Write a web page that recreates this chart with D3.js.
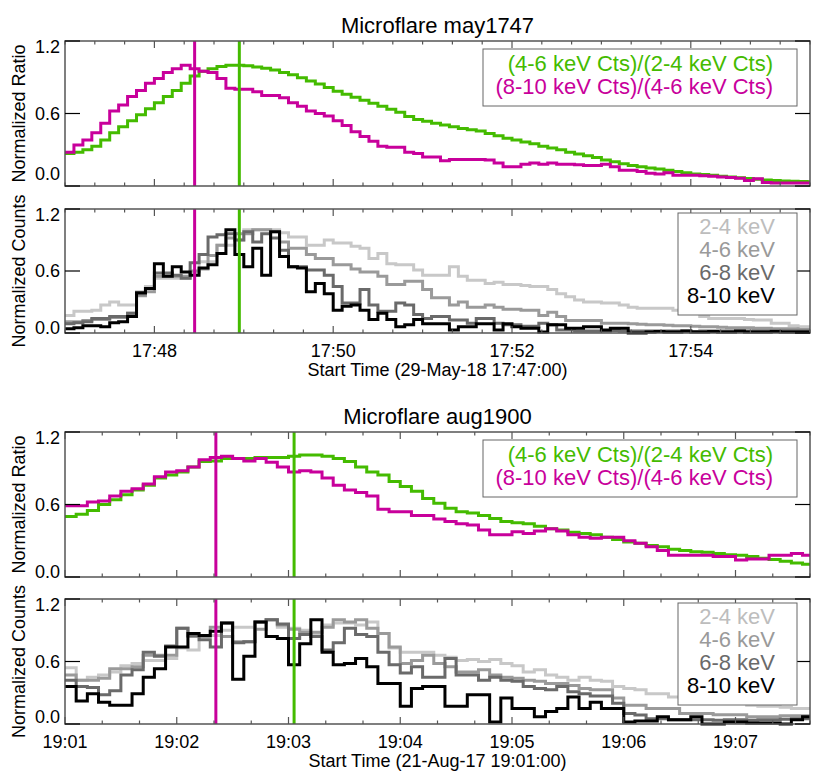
<!DOCTYPE html>
<html><head><meta charset="utf-8">
<script src="https://cdn.jsdelivr.net/npm/d3@7"></script>
<style>
body{margin:0;background:#fff}
svg{display:block}
text{font-family:"Liberation Sans",Arial,Helvetica,sans-serif}
</style></head>
<body><svg id="c" width="830" height="783"></svg>
<script>
// ---------------- DATA ----------------
const binSec = 6;                  // seconds per time bin
const mayTitle = "Microflare may1747";
const augTitle = "Microflare aug1900";
const mayXTitle = "Start Time (29-May-18 17:47:00)";
const augXTitle = "Start Time (21-Aug-17 19:01:00)";
const mayTickSec = [60,180,300,420];
const mayTickLabels = ["17:48","17:50","17:52","17:54"];
const augTickSec = [0,60,120,180,240,300,360];
const augTickLabels = ["19:01","19:02","19:03","19:04","19:05","19:06","19:07"];
const yTicks = [0,0.6,1.2];
const yTickLabels = ["0.0","0.6","1.2"];
const ratioLegend = ["(4-6 keV Cts)/(2-4 keV Cts)","(8-10 keV Cts)/(4-6 keV Cts)"];
const bandLegend = ["2-4 keV","4-6 keV","6-8 keV","8-10 keV"];
const mayMarkSec = [87,117];   // magenta, green vertical lines
const augMarkSec = [81,123];

const mayRatioGreen = [0.27,0.28,0.30,0.33,0.38,0.44,0.49,0.54,0.59,0.64,0.69,0.74,0.79,0.85,0.91,0.95,0.97,0.99,1.00,1.00,0.995,0.985,0.975,0.96,0.94,0.92,0.895,0.87,0.845,0.815,0.785,0.76,0.735,0.71,0.685,0.66,0.635,0.61,0.575,0.55,0.535,0.52,0.505,0.49,0.475,0.465,0.455,0.435,0.415,0.395,0.38,0.365,0.35,0.33,0.315,0.30,0.28,0.265,0.25,0.235,0.215,0.20,0.185,0.17,0.16,0.15,0.14,0.13,0.12,0.11,0.10,0.095,0.088,0.08,0.075,0.068,0.062,0.056,0.05,0.045,0.042,0.04,0.037,0.035];
const mayRatioMagenta = [0.28,0.34,0.38,0.44,0.52,0.62,0.67,0.74,0.79,0.85,0.89,0.94,0.97,1.00,0.97,0.95,0.94,0.89,0.81,0.80,0.80,0.78,0.75,0.75,0.73,0.69,0.66,0.62,0.60,0.58,0.54,0.50,0.45,0.41,0.37,0.33,0.32,0.32,0.28,0.27,0.24,0.24,0.21,0.22,0.22,0.22,0.22,0.215,0.19,0.16,0.16,0.18,0.19,0.18,0.19,0.18,0.18,0.175,0.17,0.17,0.18,0.16,0.13,0.13,0.12,0.105,0.10,0.11,0.09,0.09,0.09,0.085,0.08,0.075,0.07,0.065,0.045,0.06,0.03,0.025,0.025,0.025,0.025,0.025];

const mayCts24 = [0.17,0.21,0.21,0.22,0.27,0.30,0.27,0.27,0.40,0.45,0.53,0.53,0.53,0.53,0.59,0.69,0.69,0.85,0.85,0.90,1.00,1.00,1.00,1.00,0.97,0.93,0.93,0.85,0.85,0.90,0.87,0.87,0.84,0.82,0.72,0.77,0.67,0.66,0.66,0.61,0.56,0.56,0.56,0.64,0.55,0.51,0.51,0.48,0.49,0.47,0.47,0.46,0.45,0.45,0.42,0.38,0.35,0.32,0.30,0.30,0.29,0.29,0.27,0.25,0.24,0.24,0.24,0.24,0.22,0.19,0.19,0.16,0.14,0.14,0.14,0.14,0.13,0.125,0.125,0.094,0.094,0.07,0.06,0.06];
const mayCts46 = [0.11,0.11,0.12,0.13,0.13,0.15,0.15,0.19,0.36,0.40,0.55,0.55,0.55,0.55,0.60,0.62,0.75,0.85,0.92,0.96,0.96,1.00,1.00,0.98,0.88,0.82,0.82,0.76,0.72,0.72,0.66,0.66,0.62,0.59,0.59,0.55,0.47,0.47,0.50,0.50,0.42,0.34,0.34,0.27,0.30,0.25,0.25,0.27,0.25,0.23,0.23,0.22,0.22,0.17,0.20,0.16,0.12,0.12,0.12,0.12,0.095,0.095,0.095,0.09,0.085,0.08,0.08,0.075,0.07,0.07,0.065,0.06,0.06,0.055,0.05,0.05,0.05,0.045,0.045,0.04,0.04,0.04,0.035,0.035];
const mayCts68 = [0.09,0.10,0.11,0.14,0.14,0.16,0.16,0.19,0.38,0.43,0.58,0.58,0.56,0.53,0.68,0.76,0.93,0.95,0.96,0.90,0.98,0.88,0.96,0.92,0.80,0.64,0.64,0.61,0.61,0.56,0.45,0.29,0.29,0.42,0.27,0.21,0.21,0.29,0.27,0.18,0.14,0.16,0.16,0.125,0.125,0.095,0.14,0.14,0.095,0.08,0.08,0.065,0.065,0.095,0.08,0.03,0.03,0.02,0.02,0.02,0.02,0.025,0.02,0.02,0.02,0.02,0.02,0.02,0.02,0.02,0.015,0.02,0.02,0.02,0.02,0.02,0.02,0.02,0.02,0.02,0.02,0.02,0.02,0.02];
const mayCts810 = [0.04,0.05,0.07,0.07,0.06,0.10,0.11,0.16,0.39,0.43,0.67,0.55,0.64,0.59,0.56,0.63,0.66,0.77,1.0,0.76,0.64,0.82,0.56,0.98,0.74,0.64,0.63,0.40,0.48,0.38,0.22,0.26,0.27,0.22,0.13,0.19,0.13,0.06,0.08,0.13,0.09,0.09,0.09,0.03,0.06,0.06,0.09,0.09,0.03,0.09,0.06,0.045,0.045,0.01,0.08,0.08,0.045,0.045,0.06,0.06,0.03,0.045,0.045,0.0,0.0,0.01,0.015,0.01,0.01,0.02,0.01,0.01,0.015,0.01,0.01,0.02,0.01,0.01,0.01,0.015,0.01,0.01,0.01,0.01];

const augRatioGreen = [0.50,0.52,0.55,0.60,0.64,0.68,0.72,0.76,0.82,0.845,0.87,0.91,0.955,0.96,0.98,0.98,0.98,0.99,0.99,0.99,1.00,1.01,1.01,1.00,0.98,0.955,0.91,0.87,0.845,0.79,0.75,0.71,0.65,0.61,0.57,0.54,0.53,0.51,0.485,0.46,0.45,0.44,0.42,0.40,0.39,0.37,0.36,0.35,0.33,0.31,0.29,0.28,0.26,0.25,0.23,0.22,0.21,0.205,0.195,0.185,0.18,0.17,0.155,0.145,0.13,0.115,0.105];
const augRatioMagenta = [0.59,0.59,0.62,0.63,0.67,0.71,0.73,0.77,0.83,0.87,0.88,0.91,0.97,0.99,1.00,0.98,0.96,0.98,0.95,0.91,0.87,0.88,0.87,0.82,0.76,0.72,0.70,0.67,0.56,0.54,0.54,0.51,0.51,0.48,0.46,0.44,0.43,0.39,0.35,0.35,0.375,0.36,0.38,0.40,0.38,0.35,0.33,0.32,0.33,0.33,0.30,0.28,0.25,0.22,0.18,0.18,0.18,0.18,0.17,0.17,0.14,0.15,0.15,0.18,0.18,0.195,0.18];

const augCts24 = [0.54,0.42,0.45,0.47,0.50,0.56,0.58,0.61,0.61,0.63,0.73,0.71,0.84,0.85,0.90,0.93,0.93,0.98,1.0,0.93,0.92,0.90,0.87,0.95,0.97,0.97,0.95,0.98,0.87,0.73,0.69,0.69,0.69,0.66,0.64,0.61,0.62,0.60,0.62,0.58,0.56,0.50,0.52,0.47,0.45,0.42,0.45,0.42,0.41,0.36,0.34,0.33,0.29,0.29,0.26,0.24,0.23,0.23,0.21,0.20,0.20,0.18,0.17,0.17,0.16,0.15,0.15];
const augCts46 = [0.47,0.42,0.42,0.44,0.53,0.53,0.55,0.66,0.66,0.66,0.92,0.84,0.84,0.93,0.84,0.79,0.79,0.91,1.0,0.95,0.91,0.88,0.88,0.93,1.0,0.98,1.0,0.92,0.87,0.74,0.58,0.61,0.66,0.58,0.55,0.50,0.50,0.52,0.47,0.45,0.44,0.42,0.41,0.39,0.39,0.37,0.34,0.33,0.33,0.25,0.18,0.18,0.15,0.15,0.15,0.10,0.10,0.10,0.09,0.09,0.09,0.07,0.07,0.07,0.08,0.08,0.08];
const augCts68 = [0.42,0.36,0.35,0.28,0.32,0.47,0.52,0.69,0.65,0.75,0.92,0.85,0.81,0.74,0.97,0.78,0.79,0.98,1.0,0.96,0.82,0.86,0.84,0.71,0.78,0.92,0.86,0.84,0.69,0.57,0.49,0.55,0.45,0.45,0.63,0.47,0.47,0.42,0.45,0.42,0.41,0.36,0.34,0.33,0.36,0.31,0.29,0.27,0.27,0.20,0.10,0.086,0.05,0.05,0.04,0.04,0.04,0.04,0.035,0.04,0.04,0.035,0.04,0.04,0.045,0.05,0.05];
const augCts810 = [0.36,0.22,0.29,0.21,0.18,0.18,0.29,0.45,0.53,0.74,0.74,0.87,0.85,0.89,0.97,0.43,0.65,0.98,0.84,0.82,0.57,0.77,1.0,0.69,0.57,0.58,0.63,0.55,0.39,0.39,0.17,0.34,0.36,0.36,0.17,0.17,0.28,0.28,0.02,0.25,0.15,0.15,0.07,0.12,0.15,0.26,0.15,0.21,0.15,0.15,0.02,0.03,0.03,0.07,0.04,0.04,0.07,0.0,0.0,0.02,0.02,0.01,0.01,0.01,0.0,0.04,0.07];

// ---------------- STYLE / LAYOUT ----------------
const GREEN = "#44bb00", MAGENTA = "#c8009b";
const bandColors = ["#c8c8c8","#9a9a9a","#6a6a6a","#000000"];
const legendBandColors = ["#bdbdbd","#9a9a9a","#6a6a6a","#000000"];
const AX = "#555";
const X0 = 65, X1 = 810;
const svg = d3.select("#c");

function drawPanel(o){
  const x = d3.scaleLinear().domain([0,o.dur]).range([X0,X1]);
  const y = d3.scaleLinear().domain([0,1.2]).range([o.y1,o.y0]);
  const g = svg.append("g");
  const clipId = "clip"+o.id;
  svg.append("clipPath").attr("id",clipId).append("rect")
    .attr("x",X0).attr("y",o.y0-2).attr("width",X1-X0).attr("height",o.y1-o.y0+4);
  const cg = g.append("g").attr("clip-path",`url(#${clipId})`);
  const line = d3.line().x(d=>x(d[0])).y(d=>y(d[1])).curve(d3.curveStepAfter);
  o.series.forEach(s=>{
    const pts = s.values.map((v,i)=>[i*binSec,v]);
    pts.push([s.values.length*binSec, s.values[s.values.length-1]]);
    cg.append("path").attr("d",line(pts)).attr("fill","none")
      .attr("stroke",s.color).attr("stroke-width",3).attr("stroke-linejoin","miter");
  });
  o.marks.forEach((t,i)=>{
    g.append("line").attr("x1",x(t)).attr("x2",x(t)).attr("y1",o.y0).attr("y2",o.y1)
      .attr("stroke", i===0?MAGENTA:GREEN).attr("stroke-width",3);
  });
  g.append("rect").attr("x",X0).attr("y",o.y0).attr("width",X1-X0).attr("height",o.y1-o.y0)
    .attr("fill","none").attr("stroke",AX).attr("stroke-width",1.5);
  const minor = d3.range(0,o.dur+0.01,20);
  minor.forEach(t=>{
    const isMaj = o.tickSec.includes(t);
    const L = isMaj?7:3.5;
    g.append("line").attr("x1",x(t)).attr("x2",x(t)).attr("y1",o.y1).attr("y2",o.y1-L).attr("stroke",AX).attr("stroke-width",1.2);
    g.append("line").attr("x1",x(t)).attr("x2",x(t)).attr("y1",o.y0).attr("y2",o.y0+L).attr("stroke",AX).attr("stroke-width",1.2);
  });
  yTicks.forEach((v,i)=>{
    g.append("line").attr("x1",X0).attr("x2",X0+15).attr("y1",y(v)).attr("y2",y(v)).attr("stroke","#000").attr("stroke-width",1.2);
    g.append("line").attr("x1",X1).attr("x2",X1-15).attr("y1",y(v)).attr("y2",y(v)).attr("stroke","#000").attr("stroke-width",1.2);
    let by = y(v)+6;
    if (i===0) by = o.y1 + o.zeroOff;
    if (i===2) by = o.y0 + 12;
    g.append("text").attr("x",60).attr("y",by).attr("text-anchor","end")
      .attr("font-size",18).text(yTickLabels[i]);
  });
  g.append("text").attr("transform",`translate(25,${(o.y0+o.y1)/2}) rotate(-90)`)
    .attr("text-anchor","middle").attr("font-size",18).text(o.ytitle);
  if (o.tickLabels){
    o.tickSec.forEach((t,i)=>{
      g.append("text").attr("x",x(t)).attr("y",o.y1+24).attr("text-anchor","middle")
        .attr("font-size",18).text(o.tickLabels[i]);
    });
    g.append("text").attr("x",(X0+X1)/2).attr("y",o.y1+43).attr("text-anchor","middle")
      .attr("font-size",18).text(o.xtitle);
  }
  if (o.title){
    g.append("text").attr("x",(X0+X1)/2).attr("y",o.y0-8).attr("text-anchor","middle")
      .attr("font-size",22).text(o.title);
  }
  if (o.legend==="ratio"){
    g.append("rect").attr("x",483).attr("y",o.y0+8).attr("width",314).attr("height",57)
      .attr("fill","#fff").attr("stroke","#666").attr("stroke-width",1);
    [GREEN,MAGENTA].forEach((c,i)=>{
      g.append("text").attr("x",773).attr("y",o.y0+30+i*23).attr("text-anchor","end")
        .attr("font-size",22).attr("fill",c).text(ratioLegend[i]);
    });
  } else {
    g.append("rect").attr("x",678).attr("y",o.y0+4).attr("width",119).attr("height",102)
      .attr("fill","#fff").attr("stroke","#666").attr("stroke-width",1);
    legendBandColors.forEach((c,i)=>{
      g.append("text").attr("x",775).attr("y",o.y0+25+i*23).attr("text-anchor","end")
        .attr("font-size",22).attr("fill",c).text(bandLegend[i]);
    });
  }
}

drawPanel({id:1,y0:41,y1:186,dur:500,tickSec:mayTickSec,marks:mayMarkSec,zeroOff:-6,
  ytitle:"Normalized Ratio",title:mayTitle,legend:"ratio",
  series:[{values:mayRatioGreen,color:GREEN},{values:mayRatioMagenta,color:MAGENTA}]});
drawPanel({id:2,y0:209,y1:333,dur:500,tickSec:mayTickSec,tickLabels:mayTickLabels,xtitle:mayXTitle,marks:mayMarkSec,zeroOff:1,
  ytitle:"Normalized Counts",legend:"band",
  series:[{values:mayCts24,color:bandColors[0]},{values:mayCts46,color:bandColors[1]},{values:mayCts68,color:bandColors[2]},{values:mayCts810,color:bandColors[3]}]});
drawPanel({id:3,y0:432,y1:577,dur:400,tickSec:augTickSec,marks:augMarkSec,zeroOff:1,
  ytitle:"Normalized Ratio",title:augTitle,legend:"ratio",
  series:[{values:augRatioGreen,color:GREEN},{values:augRatioMagenta,color:MAGENTA}]});
drawPanel({id:4,y0:599,y1:724,dur:400,tickSec:augTickSec,tickLabels:augTickLabels,xtitle:augXTitle,marks:augMarkSec,zeroOff:-1,
  ytitle:"Normalized Counts",legend:"band",
  series:[{values:augCts24,color:bandColors[0]},{values:augCts46,color:bandColors[1]},{values:augCts68,color:bandColors[2]},{values:augCts810,color:bandColors[3]}]});
</script></body></html>
